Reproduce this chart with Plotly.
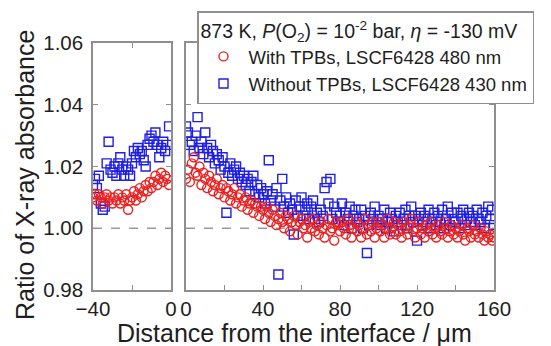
import plotly.graph_objects as go

# ---------------- data ----------------
x_left = [-40, -39, -38, -37, -36, -35, -34, -33, -32, -31, -30, -29, -28, -27, -26, -25, -24, -23, -22, -21,
          -20, -19, -18, -17, -16, -15, -14, -13, -12, -11, -10, -9, -8, -7, -6, -5, -4, -3, -2, -1]

red_left = [1.010, 1.011, 1.009, 1.011, 1.010, 1.008, 1.010, 1.011, 1.009, 1.010,
            1.008, 1.010, 1.009, 1.011, 1.008, 1.010, 1.009, 1.011, 1.006, 1.009,
            1.010, 1.012, 1.009, 1.011, 1.013, 1.010, 1.012, 1.014, 1.012, 1.015,
            1.013, 1.015, 1.017, 1.014, 1.016, 1.018, 1.015, 1.017, 1.016, 1.014]

blue_left = [1.014, 1.016, 1.013, 1.017, 1.008, 1.006, 1.007, 1.021, 1.028, 1.019,
             1.018, 1.020, 1.017, 1.021, 1.023, 1.019, 1.017, 1.020, 1.019, 1.017,
             1.021, 1.025, 1.023, 1.026, 1.024, 1.025, 1.022, 1.020, 1.027, 1.029,
             1.030, 1.028, 1.031, 1.027, 1.023, 1.026, 1.028, 1.025, 1.027, 1.033]

x_right = [0, 1, 2, 3, 4, 5, 6, 7, 8, 9, 10, 11, 12, 13, 14, 15, 16, 17, 18, 19,
           20, 21, 22, 23, 24, 25, 26, 27, 28, 29, 30, 31, 32, 33, 34, 35, 36, 37, 38, 39,
           40, 41, 42, 43, 44, 45, 46, 47, 48, 49, 50, 51, 52, 53, 54, 55, 56, 57, 58, 59,
           60, 61, 62, 63, 64, 65, 66, 67, 68, 69, 70, 71, 72, 73, 74, 75, 76, 77, 78, 79,
           80, 81, 82, 83, 84, 85, 86, 87, 88, 89, 90, 91, 92, 93, 94, 95, 96, 97, 98, 99,
           100, 101, 102, 103, 104, 105, 106, 107, 108, 109, 110, 111, 112, 113, 114, 115, 116, 117, 118, 119,
           120, 121, 122, 123, 124, 125, 126, 127, 128, 129, 130, 131, 132, 133, 134, 135, 136, 137, 138, 139,
           140, 141, 142, 143, 144, 145, 146, 147, 148, 149, 150, 151, 152, 153, 154, 155, 156, 157, 158, 159,
           160]

red_right = [1.016, 1.019, 1.015, 1.021, 1.023, 1.018, 1.017, 1.020, 1.014, 1.018,
             1.016, 1.013, 1.017, 1.015, 1.012, 1.014, 1.016, 1.011, 1.013, 1.014,
             1.010, 1.013, 1.012, 1.009, 1.011, 1.013, 1.008, 1.010, 1.011, 1.007,
             1.009, 1.010, 1.006, 1.008, 1.009, 1.005, 1.008, 1.007, 1.004, 1.007,
             1.006, 1.003, 1.007, 1.005, 1.002, 1.006, 1.004, 1.001, 1.003, 1.005,
             1.002, 1.000, 1.004, 1.003, 0.999, 1.002, 1.004, 1.001, 0.998, 1.002,
             1.003, 1.000, 1.001, 0.997, 1.002, 1.000, 1.003, 0.999, 1.001, 0.998,
             1.002, 1.000, 0.997, 1.001, 1.003, 0.999, 1.000, 0.996, 1.002, 1.001,
             0.999, 1.002, 1.000, 0.998, 1.003, 1.001, 0.997, 1.000, 1.002, 0.999,
             1.001, 0.997, 1.000, 1.003, 0.998, 1.001, 0.999, 1.002, 0.997, 1.000,
             1.002, 0.999, 1.001, 0.997, 1.000, 1.003, 0.998, 1.000, 1.002, 0.998,
             1.001, 0.999, 0.997, 1.002, 1.000, 0.998, 1.001, 1.003, 0.999, 0.997,
             1.000, 1.002, 0.998, 1.000, 0.997, 1.001, 0.999, 1.002, 0.998, 1.000,
             0.997, 1.001, 0.999, 0.998, 1.002, 1.000, 0.997, 0.999, 1.001, 0.998,
             1.000, 0.997, 0.999, 1.001, 0.998, 0.996, 1.000, 0.999, 0.997, 1.001,
             0.998, 0.999, 0.997, 1.000, 0.998, 0.996, 0.999, 0.997, 0.998, 0.996,
             0.997]

blue_right = [1.033, 1.031, 1.027, 1.028, 1.025, 1.030, 1.036, 1.026, 1.028, 1.024,
              1.031, 1.026, 1.023, 1.027, 1.025, 1.021, 1.024, 1.022, 1.019, 1.023,
              1.020, 1.005, 1.018, 1.021, 1.017, 1.019, 1.020, 1.016, 1.018, 1.015,
              1.017, 1.014, 1.016, 1.012, 1.015, 1.017, 1.011, 1.014, 1.010, 1.013,
              1.011, 1.008, 1.012, 1.022, 1.009, 1.011, 1.007, 1.013, 0.985, 1.009,
              1.016, 1.007, 1.010, 1.005, 1.008, 1.006, 0.998, 1.009, 1.004, 1.007,
              1.010, 1.004, 1.006, 1.008, 1.003, 1.007, 1.009, 1.003, 1.005, 1.002,
              1.006, 1.004, 1.013, 1.015, 1.008, 1.016, 1.003, 1.007, 1.005, 1.002,
              1.004, 1.008, 1.001, 1.005, 1.003, 1.007, 1.000, 1.004, 1.006, 1.002,
              1.003, 1.006, 1.000, 1.004, 0.992, 1.001, 1.005, 1.003, 1.007, 1.002,
              1.004, 1.001, 1.003, 1.006, 1.000, 1.002, 1.005, 1.003, 0.999, 1.004,
              1.002, 1.005, 1.001, 1.003, 1.006, 1.000, 1.004, 1.007, 1.002, 1.004,
              0.996, 1.003, 1.005, 1.001, 1.004, 1.002, 1.006, 1.000, 1.003, 1.005,
              1.001, 1.004, 1.002, 1.006, 1.000, 1.003, 1.007, 1.001, 1.005, 1.003,
              1.002, 1.005, 1.000, 1.004, 1.006, 1.001, 1.003, 1.005, 1.002, 1.004,
              1.001, 1.006, 1.003, 1.002, 1.005, 1.000, 1.004, 1.007, 1.003, 1.006,
              1.001]

y_ticks = [0.98, 1.00, 1.02, 1.04, 1.06]
y_ticktext = ["0.98", "1.00", "1.02", "1.04", "1.06"]
xl_ticks = [-40, 0]
xl_minor = [-20]
xr_ticks = [0, 40, 80, 120, 160]
xr_minor = [20, 60, 100, 140]
ref_level = 1.00

RED = "#ee1f1f"
BLUE = "#1f1fe6"
GRAY = "#8f8f8f"
TXT = "#1e1e1e"
FONT = "Liberation Sans, Arial, sans-serif"

red_name = "With TPBs, LSCF6428 480 nm"
blue_name = "Without TPBs, LSCF6428 430 nm"
legend_title = "873 K, <i>P</i>(O<sub>2</sub>) = 10<sup>-2</sup> bar, <i>η</i> = -130 mV"

# ---------------- figure ----------------
fig = go.Figure()
red_marker = dict(symbol="circle-open", size=9, color=RED, line=dict(width=1.4, color=RED))
blue_marker = dict(symbol="square-open", size=9, color=BLUE, line=dict(width=1.4, color=BLUE))

fig.add_trace(go.Scatter(x=x_left, y=blue_left, mode="markers", marker=blue_marker,
                         xaxis="x", yaxis="y", showlegend=False))
fig.add_trace(go.Scatter(x=x_left, y=red_left, mode="markers", marker=red_marker,
                         xaxis="x", yaxis="y", showlegend=False))
fig.add_trace(go.Scatter(x=x_right, y=blue_right, mode="markers", marker=blue_marker,
                         xaxis="x2", yaxis="y2", name=blue_name, legendrank=2))
fig.add_trace(go.Scatter(x=x_right, y=red_right, mode="markers", marker=red_marker,
                         xaxis="x2", yaxis="y2", name=red_name, legendrank=1))

# dashed reference lines at ratio = 1
for xr, yr in (("x domain", "y"), ("x2 domain", "y2")):
    fig.add_shape(type="line", xref=xr, yref=yr, x0=0, x1=1, y0=ref_level, y1=ref_level,
                  line=dict(color="#9a9a9a", width=1.5, dash="dash"), layer="below")

# the page body has an 8 px margin; positions below are window pixels minus 8
OFF = 8
W, H = 551 - OFF, 346 - OFF


def px(v):
    return (v - OFF) / W


def py(v):
    return 1 - (v - OFF) / H


ax_common = dict(showline=True, linecolor=GRAY, linewidth=1.5, mirror="allticks",
                 ticks="inside", ticklen=5, tickwidth=1.2, tickcolor=GRAY,
                 showgrid=False, zeroline=False, automargin=False,
                 tickfont=dict(family=FONT, size=20.5, color=TXT))
minor_style = dict(ticks="inside", ticklen=5, tickwidth=1.2, tickcolor=GRAY, showgrid=False)

fig.update_layout(
    width=W, height=H,
    margin=dict(l=0, r=0, t=0, b=0),
    paper_bgcolor="white", plot_bgcolor="white",
    font=dict(family=FONT, color=TXT),
    xaxis=dict(domain=[px(93), px(171)], range=[-40, 0], anchor="y",
               tickmode="array", tickvals=xl_ticks,
               minor=dict(tickvals=xl_minor, **minor_style), **ax_common),
    xaxis2=dict(domain=[px(186), px(494)], range=[0, 160], anchor="y2",
                tickmode="array", tickvals=xr_ticks,
                minor=dict(tickvals=xr_minor, **minor_style), **ax_common),
    yaxis=dict(domain=[py(290), py(43)], range=[0.98, 1.06], anchor="x",
               tickmode="array", tickvals=y_ticks, ticktext=y_ticktext,
               ticklabelstandoff=4, **ax_common),
    yaxis2=dict(domain=[py(290), py(43)], range=[0.98, 1.06], anchor="x2",
                tickmode="array", tickvals=y_ticks, showticklabels=False, **ax_common),
    legend=dict(x=px(197), y=py(11), xanchor="left", yanchor="top",
                bgcolor="white", bordercolor=GRAY, borderwidth=1.5,
                font=dict(family=FONT, size=18.5, color=TXT),
                title=dict(text=legend_title, font=dict(family=FONT, size=19.5, color=TXT)),
                tracegroupgap=0, itemwidth=40),
    annotations=[
        dict(text="Ratio of X-ray absorbance", xref="paper", yref="paper",
             x=px(25), y=py(175), xanchor="center", yanchor="middle",
             textangle=-90, showarrow=False, font=dict(family=FONT, size=25, color=TXT)),
        dict(text="Distance from the interface / μm", xref="paper", yref="paper",
             x=px(294), y=py(333), xanchor="center", yanchor="middle",
             showarrow=False, font=dict(family=FONT, size=25, color=TXT)),
    ],
)

fig.write_html("out.html")
